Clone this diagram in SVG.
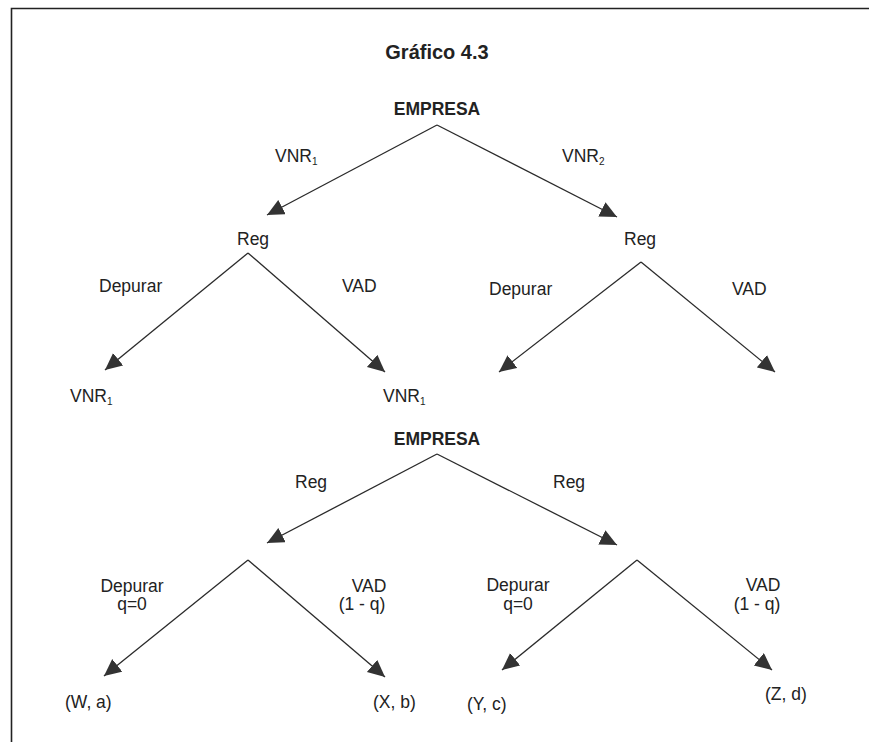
<svg xmlns="http://www.w3.org/2000/svg" width="869" height="742" viewBox="0 0 869 742">
<style>
text{font-family:"Liberation Sans",Arial,sans-serif;fill:#222;font-size:17.5px}
.b{font-weight:bold}
.t{font-size:20px;font-weight:bold}
.c{text-anchor:middle}
.e{fill:none;stroke:#2a2a2a;stroke-width:1.3;marker-end:url(#ah)}
.s{font-size:10px}
</style>
<defs>
<marker id="ah" markerUnits="userSpaceOnUse" markerWidth="18" markerHeight="17" refX="17" refY="8" orient="auto" viewBox="0 0 18 17">
<path d="M0,0 L17,8 L0,16 z" fill="#333"/>
</marker>
</defs>
<rect width="869" height="742" fill="#fff"/>
<path d="M11.5,742 V8.5 H869" fill="none" stroke="#222" stroke-width="1.6"/>
<text class="t c" x="437" y="59">Gráfico 4.3</text>
<g id="connectors">
<line class="e" x1="437" y1="125" x2="267" y2="215"/>
<line class="e" x1="437" y1="125" x2="617" y2="217"/>
<line class="e" x1="248" y1="253" x2="105" y2="370"/>
<line class="e" x1="248" y1="253" x2="385" y2="372"/>
<line class="e" x1="641" y1="262" x2="499" y2="372"/>
<line class="e" x1="641" y1="262" x2="775" y2="372"/>
<line class="e" x1="437" y1="454" x2="267" y2="543"/>
<line class="e" x1="437" y1="454" x2="617" y2="545"/>
<line class="e" x1="248" y1="560" x2="104" y2="676"/>
<line class="e" x1="248" y1="560" x2="385" y2="677"/>
<line class="e" x1="637" y1="560" x2="502" y2="670"/>
<line class="e" x1="637" y1="560" x2="772" y2="670"/>
</g>
<g id="edge-labels">
<text x="275" y="162">VNR<tspan class="s" dy="3">1</tspan></text>
<text x="562" y="162">VNR<tspan class="s" dy="3">2</tspan></text>
<text x="99" y="292">Depurar</text>
<text x="342" y="292">VAD</text>
<text x="489" y="295">Depurar</text>
<text x="732" y="295">VAD</text>
<text x="295" y="488">Reg</text>
<text x="553" y="488">Reg</text>
<text class="c" x="132" y="592">Depurar</text>
<text class="c" x="132" y="610">q=0</text>
<text class="c" x="369" y="592">VAD</text>
<text class="c" x="362" y="610">(1 - q)</text>
<text class="c" x="518" y="591">Depurar</text>
<text class="c" x="518" y="610">q=0</text>
<text class="c" x="763" y="591">VAD</text>
<text class="c" x="757" y="610">(1 - q)</text>
</g>
<g id="empresa1"><text class="b c" x="437" y="115">EMPRESA</text></g>
<g id="reg1"><text x="237" y="245">Reg</text></g>
<g id="reg2"><text x="624" y="245">Reg</text></g>
<g id="leaf1"><text x="70" y="402">VNR<tspan class="s" dy="3">1</tspan></text></g>
<g id="leaf2"><text x="383" y="402">VNR<tspan class="s" dy="3">1</tspan></text></g>
<g id="empresa2"><text class="b c" x="437" y="445">EMPRESA</text></g>
<g id="leafW"><text x="65" y="708">(W, a)</text></g>
<g id="leafX"><text x="373" y="708">(X, b)</text></g>
<g id="leafY"><text x="467" y="710">(Y, c)</text></g>
<g id="leafZ"><text x="765" y="700">(Z, d)</text></g>
</svg>
